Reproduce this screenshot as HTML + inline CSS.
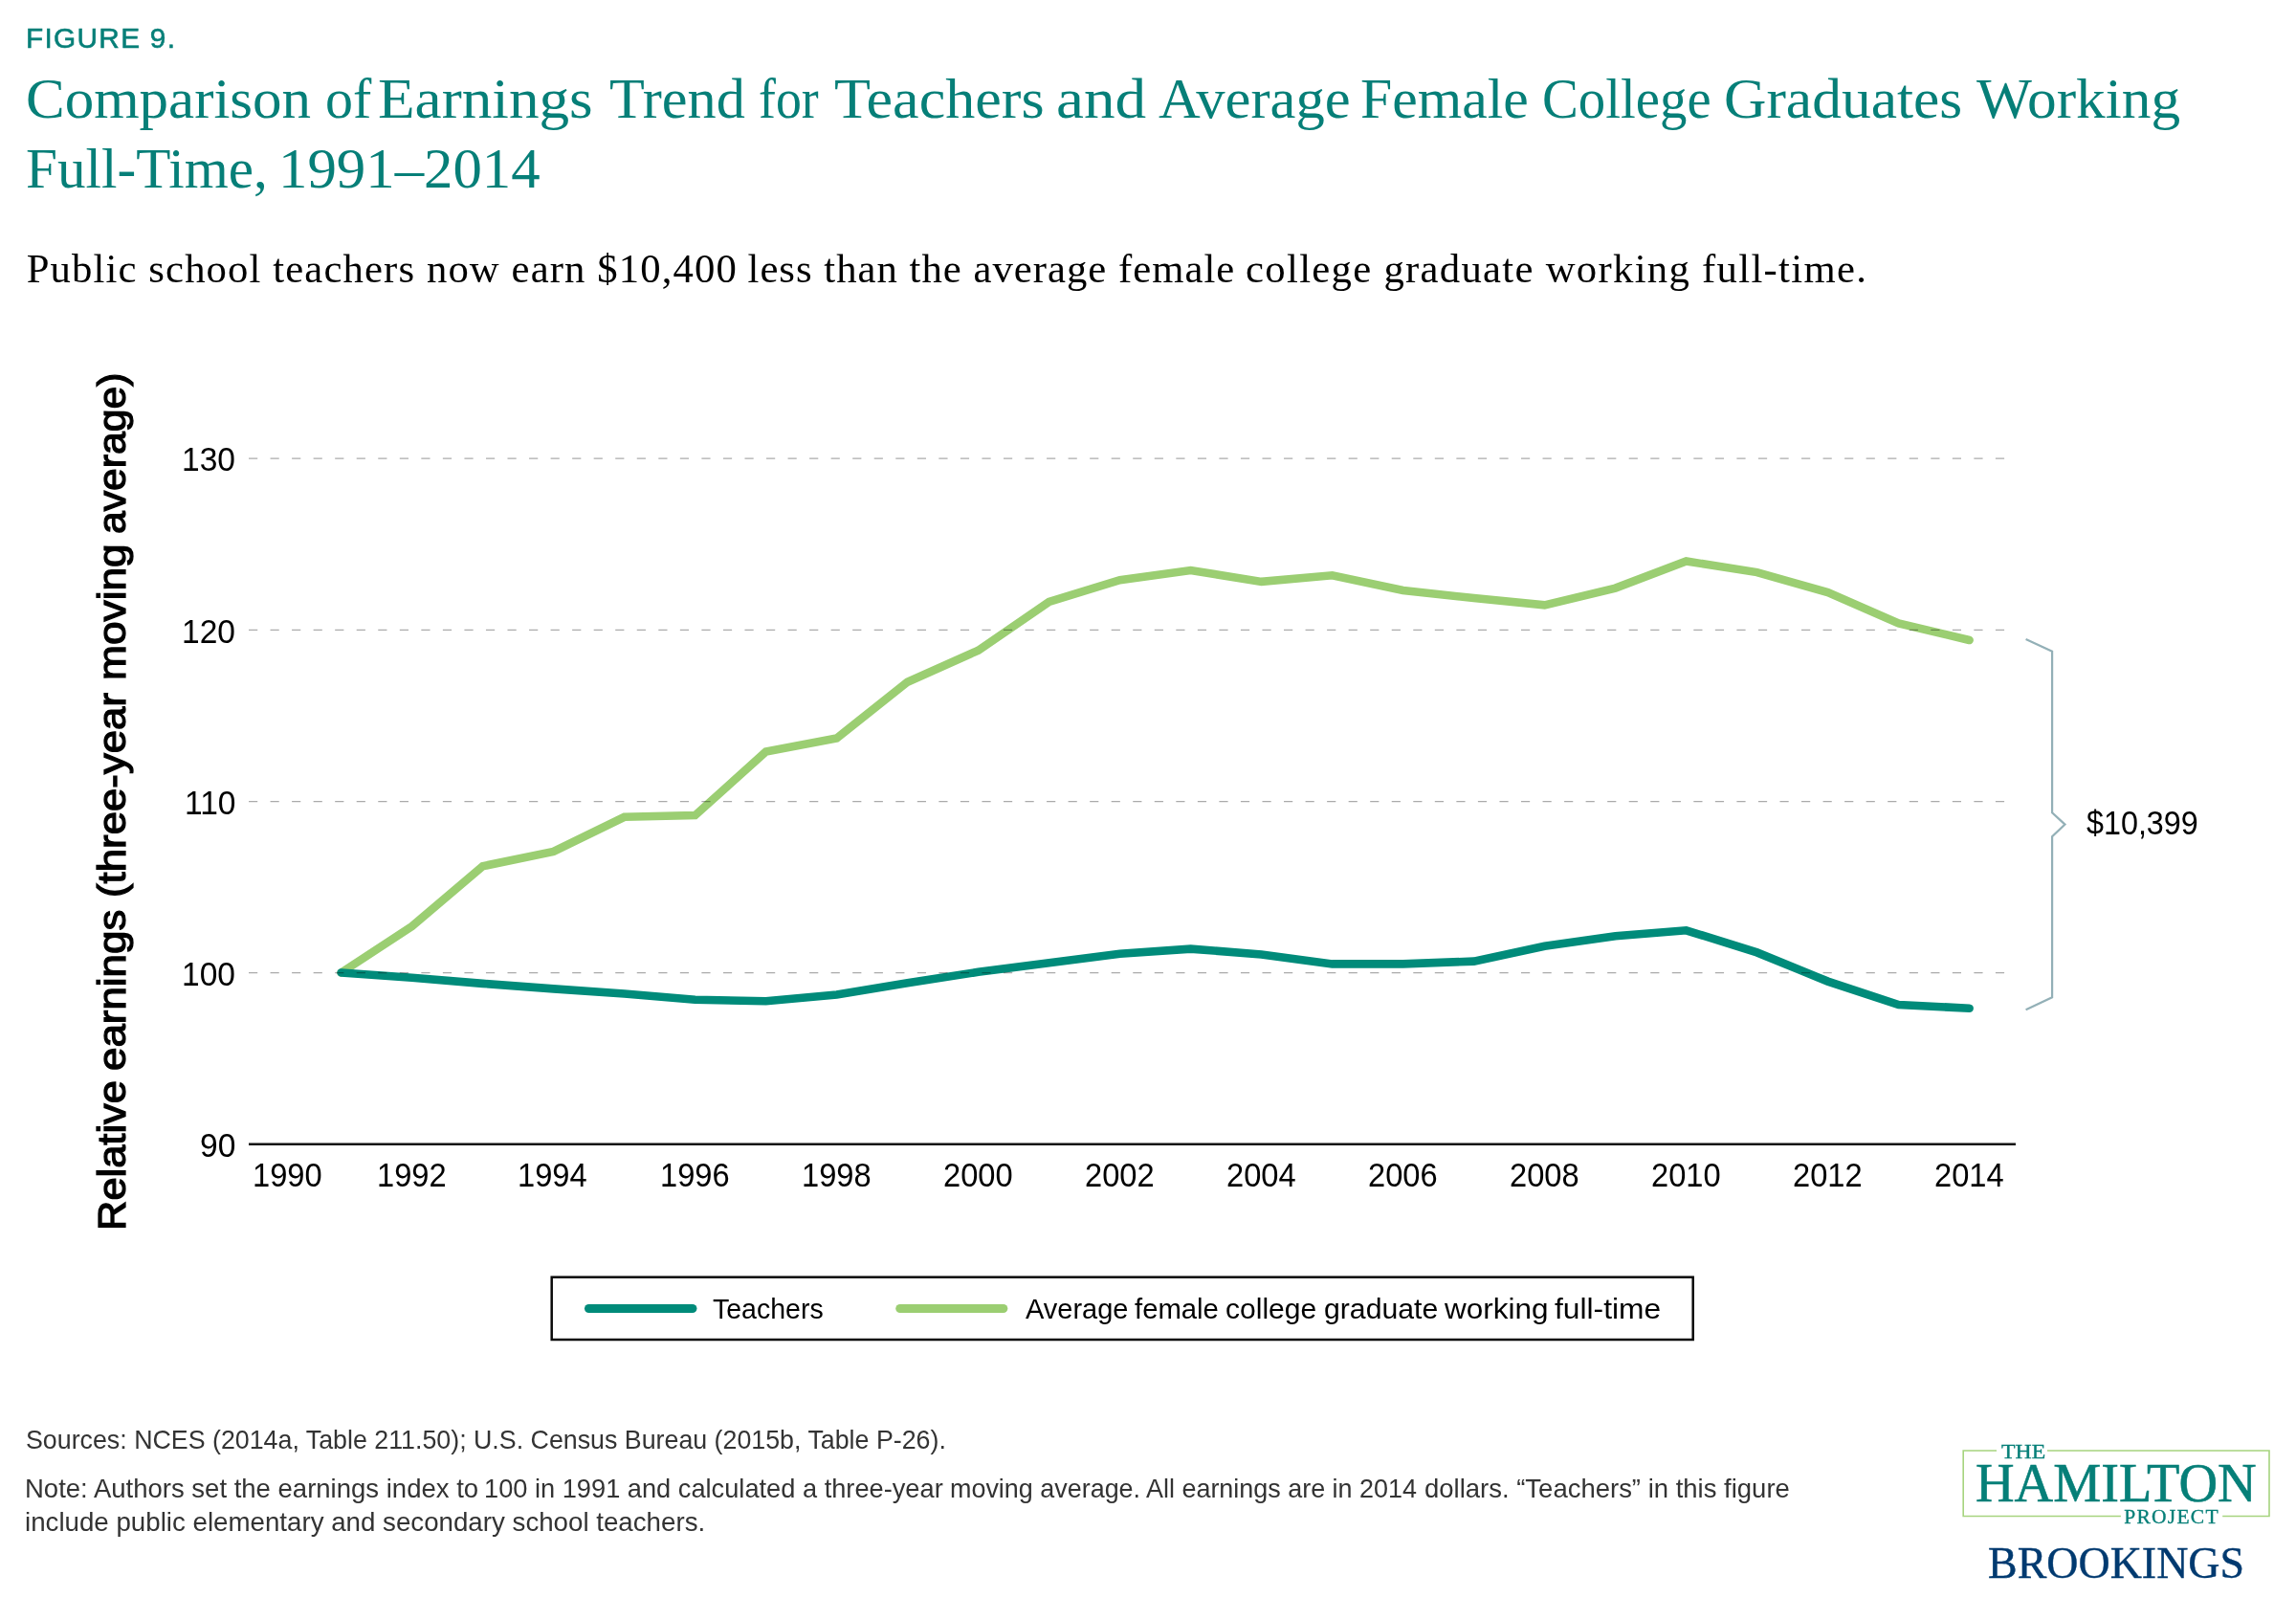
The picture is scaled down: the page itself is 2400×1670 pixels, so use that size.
<!DOCTYPE html>
<html><head><meta charset="utf-8"><title>Figure 9</title>
<style>
html,body{margin:0;padding:0;background:#fff}
body{width:2400px;height:1670px;position:relative;overflow:hidden;font-family:'Liberation Sans',sans-serif}
span{position:absolute;line-height:1;white-space:nowrap;transform-origin:0 0;display:block}
</style></head><body>
<svg width="2400" height="1670" viewBox="0 0 2400 1670" style="position:absolute;left:0;top:0">
<polyline points="356.6,1016.5 430.6,968.0 504.6,905.2 578.6,889.9 652.6,853.8 726.6,852.1 800.6,785.6 874.6,771.5 948.6,712.7 1022.6,679.7 1096.6,628.9 1170.6,606.2 1244.6,596.0 1318.6,607.9 1392.6,601.3 1466.6,617.0 1540.6,625.1 1614.6,632.4 1688.6,614.6 1762.6,586.5 1836.6,598.1 1910.6,619.1 1984.6,651.4 2058.6,669.0" fill="none" stroke="#9bce72" stroke-width="8.6" stroke-linejoin="miter" stroke-linecap="round"/>
<polyline points="356.6,1016.5 430.6,1021.7 504.6,1027.9 578.6,1033.4 652.6,1038.5 726.6,1044.8 800.6,1046.2 874.6,1039.6 948.6,1027.3 1022.6,1015.8 1096.6,1006.3 1170.6,996.8 1244.6,991.6 1318.6,997.5 1392.6,1007.4 1466.6,1007.4 1540.6,1004.6 1614.6,988.8 1688.6,978.3 1762.6,972.3 1836.6,995.4 1910.6,1025.6 1984.6,1050.1 2058.6,1053.7" fill="none" stroke="#008b7a" stroke-width="8.6" stroke-linejoin="miter" stroke-linecap="round"/>
<line x1="260" x2="2095.3" y1="479.0" y2="479.0" stroke="#000" stroke-opacity="0.33" stroke-width="1.25" stroke-dasharray="9.2 13.342"/>
<line x1="260" x2="2095.3" y1="658.3" y2="658.3" stroke="#000" stroke-opacity="0.33" stroke-width="1.25" stroke-dasharray="9.2 13.342"/>
<line x1="260" x2="2095.3" y1="837.5" y2="837.5" stroke="#000" stroke-opacity="0.33" stroke-width="1.25" stroke-dasharray="9.2 13.342"/>
<line x1="260" x2="2095.3" y1="1016.6" y2="1016.6" stroke="#000" stroke-opacity="0.33" stroke-width="1.25" stroke-dasharray="9.2 13.342"/>
<line x1="260" x2="2107" y1="1195.8" y2="1195.8" stroke="#111" stroke-width="2.55"/>
<polyline points="2117.6,668.0 2145.1,680.8 2145.1,849.3 2158.5,861.6 2145.1,874.2 2145.1,1042.3 2117.6,1055.3" fill="none" stroke="#93b0b7" stroke-width="2.2"/>
<rect x="576.7" y="1334.7" width="1193" height="65.3" fill="none" stroke="#0a0a0a" stroke-width="2.5"/>
<line x1="615.5" x2="723.9" y1="1367.5" y2="1367.5" stroke="#008b7a" stroke-width="9.1" stroke-linecap="round"/>
<line x1="940.8" x2="1048.8" y1="1367.5" y2="1367.5" stroke="#9bce72" stroke-width="9.1" stroke-linecap="round"/>
<path d="M2087,1516 H2052.2 V1584.5 H2216.9 M2323.2,1584.5 H2372 V1516 H2140" fill="none" stroke="#a6d47f" stroke-width="1.6"/>
</svg>
<div id="txt" style="position:absolute;left:0;top:0;width:2400px;height:1670px;will-change:transform">
<span id="fig" style="left:27.00px;top:24.70px;font-family:'Liberation Sans',sans-serif;font-size:29.8px;font-weight:400;color:#067f78;letter-spacing:1.288px;transform:scaleX(1.0000);-webkit-text-stroke:0.55px #067f78">FIGURE 9.</span>
<span id="t1_0" style="left:26.57px;top:72.80px;font-family:'Liberation Serif',serif;font-size:60px;font-weight:400;color:#067f78;letter-spacing:0.000px;transform:scaleX(1.0162);">Comparison</span>
<span id="t1_1" style="left:340.27px;top:72.80px;font-family:'Liberation Serif',serif;font-size:60px;font-weight:400;color:#067f78;letter-spacing:0.000px;transform:scaleX(0.9646);">of</span>
<span id="t1_2" style="left:395.09px;top:72.80px;font-family:'Liberation Serif',serif;font-size:60px;font-weight:400;color:#067f78;letter-spacing:0.000px;transform:scaleX(1.0536);">Earnings</span>
<span id="t1_3" style="left:637.29px;top:72.80px;font-family:'Liberation Serif',serif;font-size:60px;font-weight:400;color:#067f78;letter-spacing:0.000px;transform:scaleX(1.0050);">Trend</span>
<span id="t1_4" style="left:793.01px;top:72.80px;font-family:'Liberation Serif',serif;font-size:60px;font-weight:400;color:#067f78;letter-spacing:0.000px;transform:scaleX(0.8955);">for</span>
<span id="t1_5" style="left:872.17px;top:72.80px;font-family:'Liberation Serif',serif;font-size:60px;font-weight:400;color:#067f78;letter-spacing:0.000px;transform:scaleX(1.0340);">Teachers</span>
<span id="t1_6" style="left:1103.83px;top:72.80px;font-family:'Liberation Serif',serif;font-size:60px;font-weight:400;color:#067f78;letter-spacing:0.000px;transform:scaleX(1.0869);">and</span>
<span id="t1_7" style="left:1210.89px;top:72.80px;font-family:'Liberation Serif',serif;font-size:60px;font-weight:400;color:#067f78;letter-spacing:0.000px;transform:scaleX(1.0097);">Average</span>
<span id="t1_8" style="left:1421.81px;top:72.80px;font-family:'Liberation Serif',serif;font-size:60px;font-weight:400;color:#067f78;letter-spacing:0.000px;transform:scaleX(0.9954);">Female</span>
<span id="t1_9" style="left:1611.51px;top:72.80px;font-family:'Liberation Serif',serif;font-size:60px;font-weight:400;color:#067f78;letter-spacing:0.000px;transform:scaleX(0.9464);">College</span>
<span id="t1_10" style="left:1801.95px;top:72.80px;font-family:'Liberation Serif',serif;font-size:60px;font-weight:400;color:#067f78;letter-spacing:0.000px;transform:scaleX(1.0247);">Graduates</span>
<span id="t1_11" style="left:2066.30px;top:72.80px;font-family:'Liberation Serif',serif;font-size:60px;font-weight:400;color:#067f78;letter-spacing:0.000px;transform:scaleX(1.0222);">Working</span>
<span id="t2_0" style="left:26.63px;top:145.50px;font-family:'Liberation Serif',serif;font-size:60px;font-weight:400;color:#067f78;letter-spacing:0.000px;transform:scaleX(0.9868);">Full-Time,</span>
<span id="t2_1" style="left:291.13px;top:145.50px;font-family:'Liberation Serif',serif;font-size:60px;font-weight:400;color:#067f78;letter-spacing:0.000px;transform:scaleX(1.0136);">1991–2014</span>
<span id="sub_0" style="left:27.70px;top:259.80px;font-family:'Liberation Serif',serif;font-size:42.7px;font-weight:400;color:#000;letter-spacing:1.124px;transform:scaleX(1.0000);">Public school teachers now earn $10,400</span>
<span id="sub_1" style="left:781.50px;top:259.80px;font-family:'Liberation Serif',serif;font-size:42.7px;font-weight:400;color:#000;letter-spacing:1.022px;transform:scaleX(1.0000);">less than the average female</span>
<span id="sub_2" style="left:1302.10px;top:259.80px;font-family:'Liberation Serif',serif;font-size:42.7px;font-weight:400;color:#000;letter-spacing:1.300px;transform:scaleX(1.0000);">college graduate working full-time.</span>
<span id="y130" style="left:190.10px;top:462.30px;font-family:'Liberation Sans',sans-serif;font-size:35.3px;font-weight:400;color:#000;letter-spacing:0.000px;transform:scaleX(0.9500);">130</span>
<span id="y120" style="left:190.10px;top:641.60px;font-family:'Liberation Sans',sans-serif;font-size:35.3px;font-weight:400;color:#000;letter-spacing:0.000px;transform:scaleX(0.9500);">120</span>
<span id="y110" style="left:192.95px;top:820.80px;font-family:'Liberation Sans',sans-serif;font-size:35.3px;font-weight:400;color:#000;letter-spacing:0.000px;transform:scaleX(0.9500);">110</span>
<span id="y100" style="left:190.10px;top:999.90px;font-family:'Liberation Sans',sans-serif;font-size:35.3px;font-weight:400;color:#000;letter-spacing:0.000px;transform:scaleX(0.9500);">100</span>
<span id="y90" style="left:209.10px;top:1179.10px;font-family:'Liberation Sans',sans-serif;font-size:35.3px;font-weight:400;color:#000;letter-spacing:0.000px;transform:scaleX(0.9500);">90</span>
<span id="x1990" style="left:264.40px;top:1210.00px;font-family:'Liberation Sans',sans-serif;font-size:35.3px;font-weight:400;color:#000;letter-spacing:0.000px;transform:scaleX(0.9250);">1990</span>
<span id="x1992" style="left:393.90px;top:1210.00px;font-family:'Liberation Sans',sans-serif;font-size:35.3px;font-weight:400;color:#000;letter-spacing:0.000px;transform:scaleX(0.9250);">1992</span>
<span id="x1994" style="left:541.44px;top:1210.00px;font-family:'Liberation Sans',sans-serif;font-size:35.3px;font-weight:400;color:#000;letter-spacing:0.000px;transform:scaleX(0.9250);">1994</span>
<span id="x1996" style="left:689.90px;top:1210.00px;font-family:'Liberation Sans',sans-serif;font-size:35.3px;font-weight:400;color:#000;letter-spacing:0.000px;transform:scaleX(0.9250);">1996</span>
<span id="x1998" style="left:837.90px;top:1210.00px;font-family:'Liberation Sans',sans-serif;font-size:35.3px;font-weight:400;color:#000;letter-spacing:0.000px;transform:scaleX(0.9250);">1998</span>
<span id="x2000" style="left:986.36px;top:1210.00px;font-family:'Liberation Sans',sans-serif;font-size:35.3px;font-weight:400;color:#000;letter-spacing:0.000px;transform:scaleX(0.9250);">2000</span>
<span id="x2002" style="left:1134.36px;top:1210.00px;font-family:'Liberation Sans',sans-serif;font-size:35.3px;font-weight:400;color:#000;letter-spacing:0.000px;transform:scaleX(0.9250);">2002</span>
<span id="x2004" style="left:1281.90px;top:1210.00px;font-family:'Liberation Sans',sans-serif;font-size:35.3px;font-weight:400;color:#000;letter-spacing:0.000px;transform:scaleX(0.9250);">2004</span>
<span id="x2006" style="left:1430.36px;top:1210.00px;font-family:'Liberation Sans',sans-serif;font-size:35.3px;font-weight:400;color:#000;letter-spacing:0.000px;transform:scaleX(0.9250);">2006</span>
<span id="x2008" style="left:1578.36px;top:1210.00px;font-family:'Liberation Sans',sans-serif;font-size:35.3px;font-weight:400;color:#000;letter-spacing:0.000px;transform:scaleX(0.9250);">2008</span>
<span id="x2010" style="left:1726.36px;top:1210.00px;font-family:'Liberation Sans',sans-serif;font-size:35.3px;font-weight:400;color:#000;letter-spacing:0.000px;transform:scaleX(0.9250);">2010</span>
<span id="x2012" style="left:1874.36px;top:1210.00px;font-family:'Liberation Sans',sans-serif;font-size:35.3px;font-weight:400;color:#000;letter-spacing:0.000px;transform:scaleX(0.9250);">2012</span>
<span id="x2014" style="left:2021.90px;top:1210.00px;font-family:'Liberation Sans',sans-serif;font-size:35.3px;font-weight:400;color:#000;letter-spacing:0.000px;transform:scaleX(0.9250);">2014</span>
<span id="amt" style="left:2180.70px;top:842.70px;font-family:'Liberation Sans',sans-serif;font-size:34.6px;font-weight:400;color:#000;letter-spacing:0.000px;transform:scaleX(0.9341);">$10,399</span>
<span id="lg1" style="left:744.56px;top:1352.80px;font-family:'Liberation Sans',sans-serif;font-size:30.3px;font-weight:400;color:#000;letter-spacing:0.000px;transform:scaleX(0.9413);">Teachers</span>
<span id="lg2_0" style="left:1071.50px;top:1352.80px;font-family:'Liberation Sans',sans-serif;font-size:30.3px;font-weight:400;color:#000;letter-spacing:0.000px;transform:scaleX(0.9568);">Average</span>
<span id="lg2_1" style="left:1185.90px;top:1352.80px;font-family:'Liberation Sans',sans-serif;font-size:30.3px;font-weight:400;color:#000;letter-spacing:0.000px;transform:scaleX(0.9667);">female</span>
<span id="lg2_2" style="left:1281.11px;top:1352.80px;font-family:'Liberation Sans',sans-serif;font-size:30.3px;font-weight:400;color:#000;letter-spacing:0.000px;transform:scaleX(0.9915);">college</span>
<span id="lg2_3" style="left:1383.90px;top:1352.80px;font-family:'Liberation Sans',sans-serif;font-size:30.3px;font-weight:400;color:#000;letter-spacing:0.000px;transform:scaleX(0.9966);">graduate</span>
<span id="lg2_4" style="left:1509.80px;top:1352.80px;font-family:'Liberation Sans',sans-serif;font-size:30.3px;font-weight:400;color:#000;letter-spacing:0.000px;transform:scaleX(1.0392);">working</span>
<span id="lg2_5" style="left:1625.00px;top:1352.80px;font-family:'Liberation Sans',sans-serif;font-size:30.3px;font-weight:400;color:#000;letter-spacing:0.000px;transform:scaleX(1.0476);">full-time</span>
<span id="src" style="left:26.64px;top:1490.60px;font-family:'Liberation Sans',sans-serif;font-size:28px;font-weight:400;color:#333;letter-spacing:0.000px;transform:scaleX(0.9566);">Sources: NCES (2014a, Table 211.50); U.S. Census Bureau (2015b, Table P-26).</span>
<span id="n1_0" style="left:26.14px;top:1541.50px;font-family:'Liberation Sans',sans-serif;font-size:28px;font-weight:400;color:#333;letter-spacing:0.000px;transform:scaleX(0.9825);">Note: Authors set the earnings index to</span>
<span id="n1_1" style="left:506.36px;top:1541.50px;font-family:'Liberation Sans',sans-serif;font-size:28px;font-weight:400;color:#333;letter-spacing:0.000px;transform:scaleX(0.9721);">100 in 1991 and calculated a three-year</span>
<span id="n1_2" style="left:992.98px;top:1541.50px;font-family:'Liberation Sans',sans-serif;font-size:28px;font-weight:400;color:#333;letter-spacing:0.000px;transform:scaleX(0.9616);">moving average. All earnings are in 2014</span>
<span id="n1_3" style="left:1489.12px;top:1541.50px;font-family:'Liberation Sans',sans-serif;font-size:28px;font-weight:400;color:#333;letter-spacing:0.000px;transform:scaleX(0.9814);">dollars. “Teachers” in this figure</span>
<span id="n2" style="left:26.12px;top:1577.40px;font-family:'Liberation Sans',sans-serif;font-size:28px;font-weight:400;color:#333;letter-spacing:0.000px;transform:scaleX(0.9890);">include public elementary and secondary school teachers.</span>
<span id="the" style="left:2091.50px;top:1506.60px;font-family:'Liberation Serif',serif;font-size:21.5px;font-weight:400;color:#067f78;letter-spacing:0.000px;transform:scaleX(1.1049);-webkit-text-stroke:0.35px #067f78">THE</span>
<span id="ham" style="left:2065.23px;top:1520.90px;font-family:'Liberation Serif',serif;font-size:58px;font-weight:400;color:#067f78;letter-spacing:0.000px;transform:scaleX(0.9694);-webkit-text-stroke:0.6px #067f78">HAMILTON</span>
<span id="prj" style="left:2220.30px;top:1575.40px;font-family:'Liberation Serif',serif;font-size:21.5px;font-weight:400;color:#067f78;letter-spacing:1.250px;transform:scaleX(1.0000);-webkit-text-stroke:0.35px #067f78">PROJECT</span>
<span id="brk" style="left:2078.33px;top:1610.00px;font-family:'Liberation Serif',serif;font-size:47.4px;font-weight:400;color:#003a70;letter-spacing:0.000px;transform:scaleX(0.9696);-webkit-text-stroke:0.4px #003a70">BROOKINGS</span>
<div style="position:absolute;left:131.7px;top:1283.3px;width:0;height:0;transform:rotate(-90deg);transform-origin:0 0"><span id="yt0" style="left:-3.18px;top:-35.00px;font-family:'Liberation Sans',sans-serif;font-size:41px;font-weight:400;-webkit-text-stroke:1.25px #000;color:#000;transform:scaleX(1.0597)">Relative</span><span id="yt1" style="left:164.43px;top:-35.00px;font-family:'Liberation Sans',sans-serif;font-size:41px;font-weight:400;-webkit-text-stroke:1.25px #000;color:#000;transform:scaleX(1.0705)">earnings</span><span id="yt2" style="left:344.77px;top:-35.00px;font-family:'Liberation Sans',sans-serif;font-size:41px;font-weight:400;-webkit-text-stroke:1.25px #000;color:#000;transform:scaleX(1.0673)">(three-year</span><span id="yt3" style="left:571.54px;top:-35.00px;font-family:'Liberation Sans',sans-serif;font-size:41px;font-weight:400;-webkit-text-stroke:1.25px #000;color:#000;transform:scaleX(1.0797)">moving</span><span id="yt4" style="left:725.26px;top:-35.00px;font-family:'Liberation Sans',sans-serif;font-size:41px;font-weight:400;-webkit-text-stroke:1.25px #000;color:#000;transform:scaleX(1.0409)">average)</span></div>
</div>
</body></html>
